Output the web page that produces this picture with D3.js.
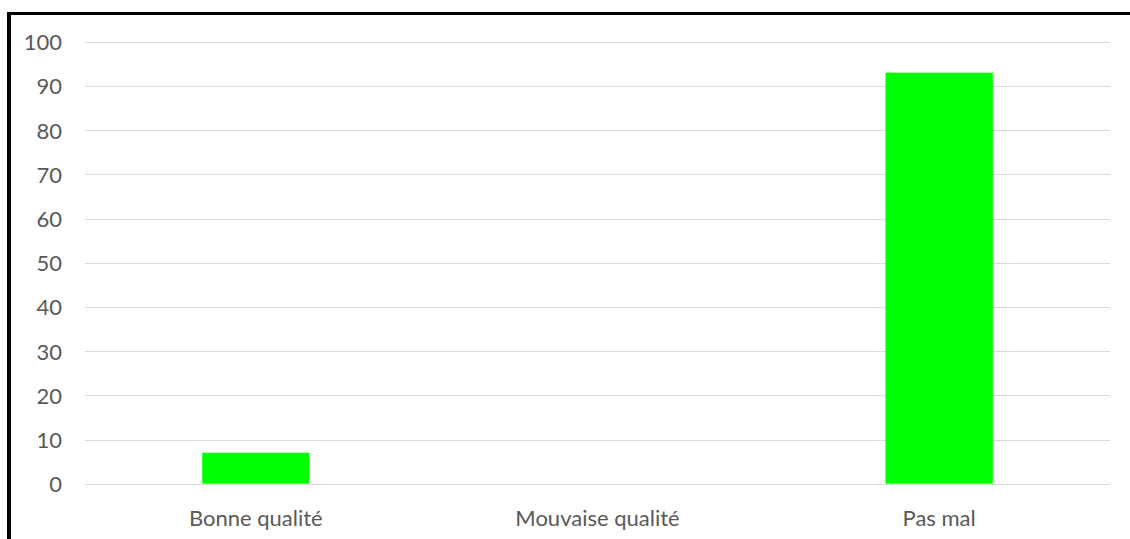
<!DOCTYPE html>
<html><head><meta charset="utf-8">
<script src="https://cdn.jsdelivr.net/npm/d3@7"></script>
<style>html,body{margin:0;padding:0;background:#fff;overflow:hidden}</style>
</head><body>
<svg id="c" width="1130" height="539"></svg>
<script>
const categories = ["Bonne qualité", "Mouvaise qualité", "Pas mal"];
const values = [7, 0, 93];
const yTicks = [0, 10, 20, 30, 40, 50, 60, 70, 80, 90, 100];

(function () {
const W = 1130, H = 539;
const plotLeft = 85, plotRight = 1110, plotTop = 41.7, plotBottom = 483.7;
const FONT = "Lato, 'Open Sans', sans-serif";

const cv = document.createElement("canvas").getContext("2d");
cv.font = "100px " + FONT;
const fs = Math.min(22, 100 * 134 / cv.measureText("Bonne qualité").width);

const svg = d3.select("#c");
svg.append("rect").attr("width", W).attr("height", H).attr("fill", "#fff");

const x = d3.scaleBand().domain(categories).range([plotLeft, plotRight])
  .paddingInner(0.686).paddingOuter(0.343);
const y = d3.scaleLinear().domain([0, 100]).range([plotBottom, plotTop]);

svg.append("g").selectAll("line").data(yTicks).join("line")
  .attr("x1", plotLeft).attr("x2", plotRight)
  .attr("y1", d => Math.round(y(d)) + 0.5).attr("y2", d => Math.round(y(d)) + 0.5)
  .attr("stroke", "#d9d9d9").attr("stroke-width", 1);

svg.append("g").selectAll("rect").data(values).join("rect")
  .attr("x", (d, i) => x(categories[i]))
  .attr("width", x.bandwidth())
  .attr("y", d => y(d))
  .attr("height", d => y(0) - y(d))
  .attr("fill", "#00ff00");

svg.append("g").selectAll("text").data(yTicks).join("text")
  .attr("x", 62).attr("y", d => y(d))
  .attr("text-anchor", "end").attr("dominant-baseline", "central")
  .attr("font-family", FONT).attr("font-size", fs).attr("fill", "#595959")
  .text(d => d);

svg.append("g").selectAll("text").data(categories).join("text")
  .attr("x", d => x(d) + x.bandwidth() / 2).attr("y", 517)
  .attr("text-anchor", "middle").attr("dominant-baseline", "central")
  .attr("font-family", FONT).attr("font-size", fs).attr("fill", "#595959")
  .text(d => d);

svg.append("line").attr("x1", 9).attr("x2", 9).attr("y1", 12).attr("y2", H)
  .attr("stroke", "#000").attr("stroke-width", 4);
svg.append("line").attr("x1", 7).attr("x2", W).attr("y1", 13.5).attr("y2", 13.5)
  .attr("stroke", "#000").attr("stroke-width", 3);
})();
</script>
</body></html>
